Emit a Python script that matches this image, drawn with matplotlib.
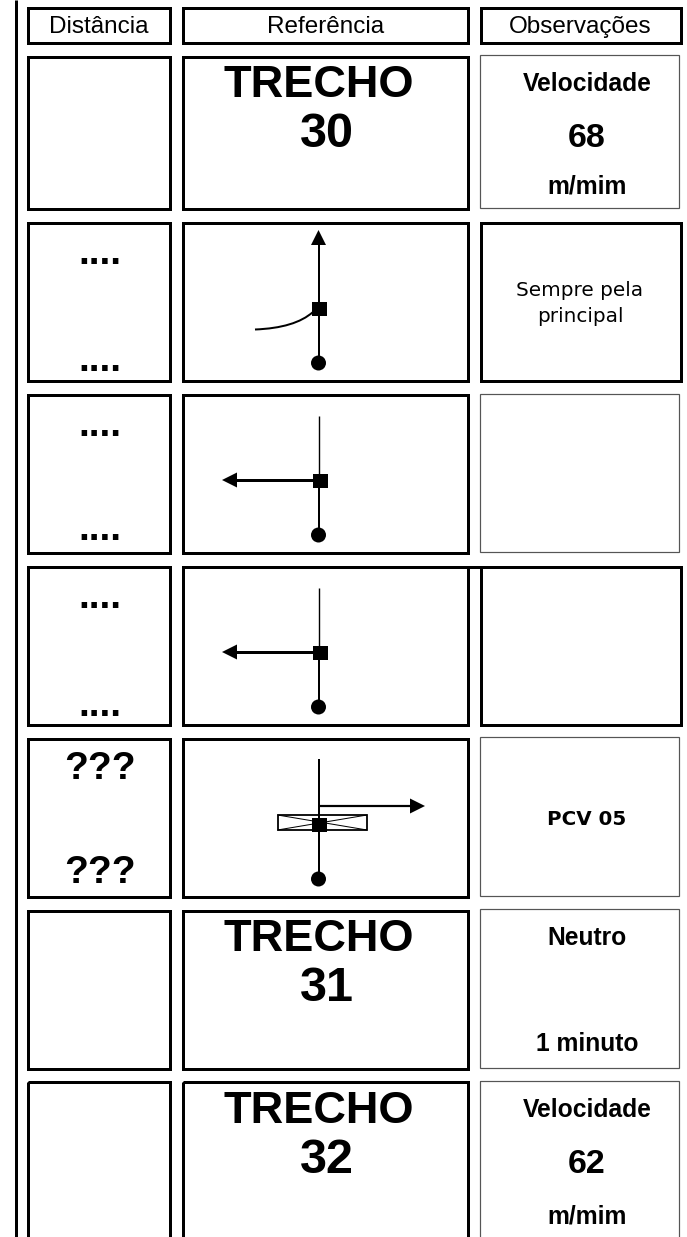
from matplotlib import pyplot as plt
from matplotlib.patches import Rectangle, Circle, Polygon, PathPatch
from matplotlib.path import Path

plt.rcParams['font.family'] = ['Liberation Sans', 'DejaVu Sans']

W = 687
H = 1237
PX = 72 / 100  # points per pixel at dpi 100

# box layout, in pixels of the page
col_left = [28, 183, 481]
col_right = [170, 468, 680.5]
row_top = [8, 57, 223, 394.7, 567, 739, 910.7, 1082]
row_bottom = [42.7, 209, 381, 553, 725.3, 897, 1069, 1245]

# third column: cells with a thin grey border (row index, top, bottom)
thin_rows = [1, 3, 5, 6, 7]
thin_top = [54.5, 393.5, 736.5, 908.5, 1080.5]
thin_bottom = [208, 552, 896, 1068, 1245]

header_labels = ["Distância", "Referência", "Observações"]
header_x = [99, 325.5, 580.5]

trecho_numbers = ["30", "31", "32"]
trecho_base = [97, 951, 1123]
number_base = [147, 1001, 1173]

dot_base_upper = [264, 436, 608]
dot_base_lower = [371, 540, 716]

obs_labels = ["Velocidade", "68", "m/mim", "Neutro", "1 minuto", "Velocidade", "62", "m/mim"]
obs_base = [91, 147, 194, 945, 1051, 1117, 1173, 1223]
obs_sizes = [17.7, 24.5, 17.7, 17.7, 17.7, 17.7, 24.5, 17.7]

fig = plt.figure(figsize=(W / 100, H / 100), dpi=100)
ax = fig.add_axes([0, 0, 1, 1])
ax.set_xlim(0, W)
ax.set_ylim(H, 0)
ax.axis('off')


def box(x0, y0, x1, y1, lw=3, ec='black', fc='none'):
    ax.add_patch(Rectangle((x0, y0), x1 - x0, y1 - y0, lw=lw * PX, ec=ec, fc=fc, joinstyle='miter'))


def line(xs, ys, lw=2):
    ax.plot(xs, ys, color='black', lw=lw * PX, solid_capstyle='butt')


def arrow_head(tip, base, half):
    # tip and base are (x, y); the head is horizontal or vertical
    if tip[0] == base[0]:
        pts = [tip, (base[0] - half, base[1]), (base[0] + half, base[1])]
    else:
        pts = [tip, (base[0], base[1] - half), (base[0], base[1] + half)]
    ax.add_patch(Polygon(pts, fc='black', ec='none', zorder=3))


def node(x, y):
    ax.add_patch(Rectangle((x - 7, y - 7), 15, 14, fc='black', ec='none', zorder=4))


def start(x, y):
    ax.add_patch(Circle((x, y), 7.5, fc='black', ec='none', zorder=4))


# outer rule
line([15.5, 15.5], [0, H], lw=3)

# boxes
for r in range(len(row_top)):
    for c in range(3):
        if c == 2 and r in thin_rows:
            continue
        box(col_left[c], row_top[r], col_right[c], row_bottom[r])
for top, bottom in zip(thin_top, thin_bottom):
    box(479.5, top, 679, bottom, lw=1.2, ec='#555555')
# row 4 top edge runs through the gap
line([col_right[1], col_left[2]], [567, 567], lw=3)

# header
for c in range(3):
    ax.text(header_x[c], 33, header_labels[c], ha='center', va='baseline', fontsize=17.5)

# TRECHO titles
for i in range(3):
    ax.text(319, trecho_base[i], "TRECHO", ha='center', va='baseline', fontsize=32.5, fontweight='bold')
    ax.text(327, number_base[i], trecho_numbers[i], ha='center', va='baseline', fontsize=35, fontweight='bold')

# observations
for label, y, size in zip(obs_labels, obs_base, obs_sizes):
    ax.text(587, y, label, ha='center', va='baseline', fontsize=size, fontweight='bold')
ax.text(580, 296, "Sempre pela", ha='center', va='baseline', fontsize=14.4, family=['DejaVu Sans'])
ax.text(580, 322, "principal", ha='center', va='baseline', fontsize=14.4, family=['DejaVu Sans'])
ax.text(586.5, 825, "PCV 05", ha='center', va='baseline', fontsize=14.3, fontweight='bold', family=['DejaVu Sans'])

# distances
for y0, y1 in zip(dot_base_upper, dot_base_lower):
    ax.text(99.5, y0, "....", ha='center', va='baseline', fontsize=28, fontweight='bold')
    ax.text(99.5, y1, "....", ha='center', va='baseline', fontsize=28, fontweight='bold')
ax.text(99.5, 779, "???", ha='center', va='baseline', fontsize=28, fontweight='bold')
ax.text(99.5, 883, "???", ha='center', va='baseline', fontsize=28, fontweight='bold')

# row 2 diagram
vx = 318.5
line([vx, vx], [243, 363])
arrow_head((vx, 230), (vx, 245), 7.5)
node(vx, 308.5)
start(vx, 363)
curve = Path([(255, 329.5), (295, 328), (313, 312)], [Path.MOVETO, Path.CURVE3, Path.CURVE3])
ax.add_patch(PathPatch(curve, fc='none', ec='black', lw=2 * PX))

# rows 3 and 4 diagrams
for top, node_y, arrow_y, circle_y in [(416, 481, 480, 535), (588, 653, 652, 707)]:
    line([vx, vx], [top, node_y], lw=1.4)
    line([vx, vx], [node_y, circle_y], lw=2)
    line([236, vx], [arrow_y, arrow_y], lw=3)
    arrow_head((222, arrow_y), (237, arrow_y), 7.5)
    node(vx + 1, node_y)
    start(vx, circle_y)

# row 5 diagram
line([vx, vx], [759, 879], lw=2)
box(277.5, 815, 367, 830, lw=1.8)
line([277.5, 367], [815, 830], lw=1)
line([277.5, 367], [830, 815], lw=1)
line([vx, 412], [806, 806], lw=2.2)
arrow_head((425, 806), (410, 806), 7.5)
node(vx, 824.5)
start(vx, 879)

fig.savefig('out.png', dpi=100)
